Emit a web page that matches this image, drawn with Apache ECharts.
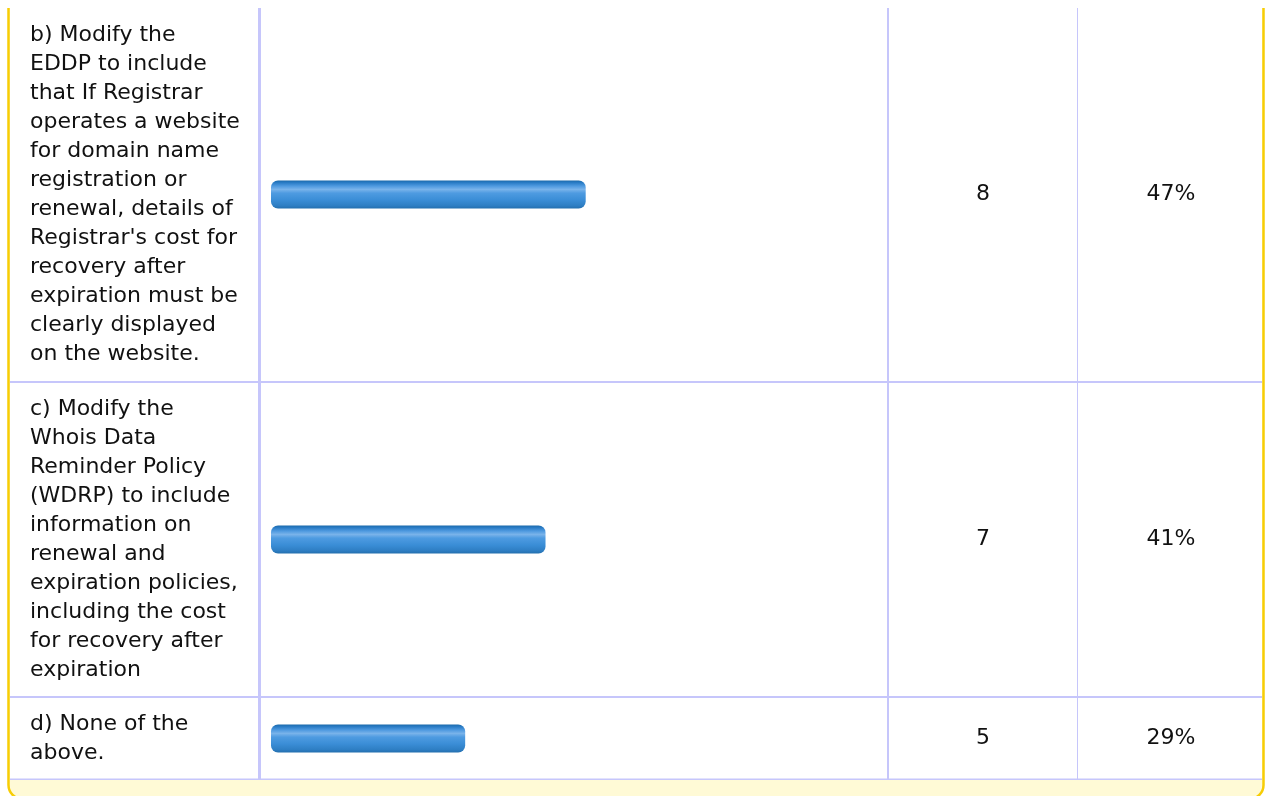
<!DOCTYPE html>
<html>
<head>
<meta charset="utf-8">
<title>Survey results</title>
<script src="https://cdn.jsdelivr.net/npm/echarts@6/dist/echarts.min.js"></script>
<style>
  html, body { margin: 0; padding: 0; background: #ffffff; }
  #chart { width: 1265px; height: 796px; }
</style>
</head>
<body>
<div id="chart"></div>
<script>
// Answer choices, one line per entry as they wrap in the first column
const answerLines = [
  ["b) Modify the", "EDDP to include", "that If Registrar", "operates a website",
   "for domain name", "registration or", "renewal, details of", "Registrar's cost for",
   "recovery after", "expiration must be", "clearly displayed", "on the website."],
  ["c) Modify the", "Whois Data", "Reminder Policy", "(WDRP) to include",
   "information on", "renewal and", "expiration policies,", "including the cost",
   "for recovery after", "expiration"],
  ["d) None of the", "above."]
];
// Response counts and share of respondents (%)
const responseCounts = [8, 7, 5];
const responsePercents = [47, 41, 29];

// Table geometry (row bands in pixels)
const rowTop = [8, 383, 698];
const rowBottom = [381, 696, 779];
const barLeft = 271, barColRight = 887;
const FONT = "'DejaVu Sans', Verdana, sans-serif";
const TEXT_SIZE = 22;
const LAVENDER = '#c6c6fb';
const GOLD = '#f7cd05';

const barFill = new echarts.graphic.LinearGradient(0, 0, 0, 1, [
  { offset: 0, color: '#1b6aab' },
  { offset: 0.08, color: '#2a7cc6' },
  { offset: 0.2, color: '#4f9ae0' },
  { offset: 0.32, color: '#79b3ea' },
  { offset: 0.45, color: '#4e9be1' },
  { offset: 0.7, color: '#3a8dd6' },
  { offset: 0.9, color: '#2e7ec3' },
  { offset: 1, color: '#246fae' }
]);

const grids = [], xAxes = [], leftAxes = [], rightAxes = [], series = [];
answerLines.forEach((lines, i) => {
  grids.push({ left: barLeft, width: barColRight - barLeft, top: rowTop[i],
               height: rowBottom[i] - rowTop[i], containLabel: false });
  xAxes.push({ gridIndex: i, type: 'value', min: 0, max: 92, show: false });
  leftAxes.push({
    gridIndex: i, type: 'category', data: [lines.join('\n')],
    axisLine: { show: false }, axisTick: { show: false }, splitLine: { show: false },
    axisLabel: { align: 'left', margin: barLeft - 30, fontFamily: FONT, fontSize: TEXT_SIZE,
                 lineHeight: 29, color: '#111111' }
  });
  rightAxes.push({
    gridIndex: i, type: 'category', position: 'right', data: [String(responseCounts[i])],
    axisLine: { show: false }, axisTick: { show: false }, splitLine: { show: false },
    axisLabel: {
      align: 'left', margin: 1,
      formatter: () => '{n|' + responseCounts[i] + '}{p|' + responsePercents[i] + '%}',
      rich: {
        n: { width: 190, align: 'center', fontFamily: FONT, fontSize: TEXT_SIZE, color: '#111111' },
        p: { width: 186, align: 'center', fontFamily: FONT, fontSize: TEXT_SIZE, color: '#111111' }
      }
    }
  });
  series.push({
    type: 'bar', xAxisIndex: i, yAxisIndex: i, data: [responsePercents[i]],
    barWidth: 28, z: 10,
    itemStyle: { color: barFill, borderRadius: 7 }
  });
});

// Table frame: panel border, footer band, cell rules
const graphic = [
  { type: 'rect', z: -20, shape: { x: 8.5, y: -20, width: 1255, height: 819, r: [0, 0, 14, 14] },
    style: { fill: '#fffad6', stroke: GOLD, lineWidth: 2.5 } },
  { type: 'rect', z: -19, shape: { x: 10, y: 0, width: 1252, height: 779 }, style: { fill: '#ffffff' } },
  { type: 'rect', z: -18, shape: { x: 0, y: 0, width: 1265, height: 8 }, style: { fill: '#ffffff' } },
  // vertical column rules
  { type: 'rect', z: -17, shape: { x: 258, y: 8, width: 3, height: 771 }, style: { fill: LAVENDER } },
  { type: 'rect', z: -17, shape: { x: 887, y: 8, width: 2, height: 771 }, style: { fill: LAVENDER } },
  { type: 'rect', z: -17, shape: { x: 1077, y: 8, width: 1, height: 771 }, style: { fill: LAVENDER } },
  // horizontal row rules
  { type: 'rect', z: -16, shape: { x: 10, y: 381, width: 1252, height: 2 }, style: { fill: LAVENDER } },
  { type: 'rect', z: -16, shape: { x: 10, y: 696, width: 1252, height: 2 }, style: { fill: LAVENDER } },
  { type: 'rect', z: -16, shape: { x: 10, y: 778.5, width: 1252, height: 1.5 }, style: { fill: LAVENDER } }
];

const chart = echarts.init(document.getElementById('chart'), null, { renderer: 'canvas' });
chart.setOption({
  animation: false,
  backgroundColor: '#ffffff',
  grid: grids,
  xAxis: xAxes,
  yAxis: leftAxes.concat(rightAxes),
  series: series,
  graphic: graphic
});
</script>
</body>
</html>
